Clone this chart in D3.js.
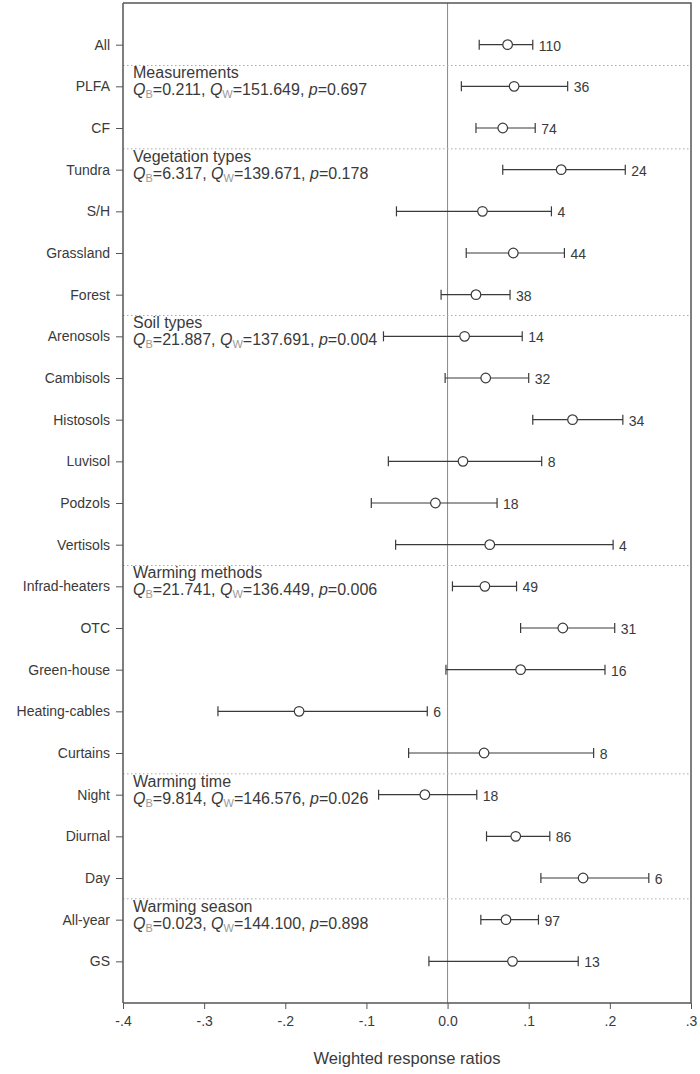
<!DOCTYPE html>
<html>
<head>
<meta charset="utf-8">
<script src="https://cdn.jsdelivr.net/npm/d3@7"></script>
<style>
  body { margin: 0; background: #fff; }
  svg { display: block; font-family: 'Liberation Sans', Arial, sans-serif; }
</style>
</head>
<body>
<svg id="chart"></svg>
<script>
const categories = ['All', 'PLFA', 'CF', 'Tundra', 'S/H', 'Grassland', 'Forest', 'Arenosols', 'Cambisols',
    'Histosols', 'Luvisol', 'Podzols', 'Vertisols', 'Infrad-heaters', 'OTC', 'Green-house',
    'Heating-cables', 'Curtains', 'Night', 'Diurnal', 'Day', 'All-year', 'GS']
const means = [0.074, 0.082, 0.068, 0.140, 0.043, 0.081, 0.035, 0.021, 0.047,
    0.154, 0.019, -0.015, 0.052, 0.046, 0.142, 0.090,
    -0.183, 0.045, -0.028, 0.084, 0.167, 0.072, 0.080]
const lower = [0.039, 0.017, 0.035, 0.068, -0.063, 0.023, -0.008, -0.079, -0.003,
    0.105, -0.073, -0.094, -0.064, 0.006, 0.090, -0.002,
    -0.283, -0.048, -0.085, 0.048, 0.115, 0.041, -0.023]
const upper = [0.105, 0.148, 0.108, 0.219, 0.128, 0.144, 0.077, 0.092, 0.100,
    0.216, 0.116, 0.061, 0.204, 0.085, 0.206, 0.194,
    -0.025, 0.180, 0.036, 0.126, 0.248, 0.112, 0.161]
const counts = [110, 36, 74, 24, 4, 44, 38, 14, 32, 34, 8, 18, 4, 49, 31, 16, 6, 8, 18, 86, 6, 97, 13]

const groupTitles = ['Measurements', 'Vegetation types', 'Soil types', 'Warming methods', 'Warming time', 'Warming season']
const groupStarts = ['PLFA', 'Tundra', 'Arenosols', 'Infrad-heaters', 'Night', 'All-year']
const groupQB = ['0.211', '6.317', '21.887', '21.741', '9.814', '0.023']
const groupQW = ['151.649', '139.671', '137.691', '136.449', '146.576', '144.100']
const groupP = ['0.697', '0.178', '0.004', '0.006', '0.026', '0.898']

const xTicks = [-0.4, -0.3, -0.2, -0.1, 0, 0.1, 0.2, 0.3]
const xTickLabels = ['-.4', '-.3', '-.2', '-.1', '0.0', '.1', '.2', '.3']
const xTitle = 'Weighted response ratios'

const fullWidth = 700
const fullHeight = 1074
const plotLeft = 123
const plotRight = 691
const plotTop = 3
const plotBottom = 1003

const svg = d3.select('#chart')
    .attr('width', fullWidth)
    .attr('height', fullHeight)

const xScale = d3.scaleLinear()
    .domain([-0.4, 0.3])
    .range([plotLeft, plotRight])

// rows sit at 1..23, frame spans 0..24
const yScale = d3.scaleLinear()
    .domain([0, categories.length + 1])
    .range([plotTop, plotBottom])
const rowY = name => yScale(categories.indexOf(name) + 1)
const sepY = name => yScale(categories.indexOf(name) + 0.5)

const ink = '#3a3a3a'

// zero line
svg.append('line')
    .attr('x1', xScale(0)).attr('x2', xScale(0))
    .attr('y1', plotTop).attr('y2', plotBottom)
    .attr('stroke', '#888').attr('stroke-width', 1)

// group separators
svg.append('g')
    .selectAll('line')
    .data(groupStarts)
    .enter().append('line')
        .attr('x1', plotLeft).attr('x2', plotRight)
        .attr('y1', sepY)
        .attr('y2', sepY)
        .attr('stroke', '#aaa').attr('stroke-width', 1)
        .attr('stroke-dasharray', '1.5,2.5')

// frame: top and right
svg.append('path')
    .attr('d', `M${plotLeft},${plotTop}H${plotRight}V${plotBottom}`)
    .attr('fill', 'none').attr('stroke', '#555').attr('stroke-width', 1.5)

// y axis
const yAxis = d3.axisLeft(d3.scalePoint().domain(categories)
        .range([yScale(1), yScale(categories.length)]))
    .tickSize(7).tickPadding(6)
const yAxisGroup = svg.append('g')
    .attr('transform', `translate(${plotLeft}, 0)`)
    .call(yAxis)
yAxisGroup.select('.domain').attr('stroke', '#555').attr('stroke-width', 1.5)
    .attr('d', `M0,${plotTop}V${plotBottom}`)
yAxisGroup.selectAll('.tick line').attr('stroke', '#555')
yAxisGroup.selectAll('text').attr('font-size', '14px').attr('fill', ink)
    .attr('font-family', "'Liberation Sans', Arial, sans-serif")

// x axis
const xAxis = d3.axisBottom(xScale)
    .tickValues(xTicks)
    .tickFormat((d, i) => xTickLabels[i])
    .tickSize(6).tickPadding(7)
const xAxisGroup = svg.append('g')
    .attr('transform', `translate(0, ${plotBottom})`)
    .call(xAxis)
xAxisGroup.select('.domain').attr('stroke', '#555').attr('stroke-width', 1.5)
    .attr('d', `M${plotLeft},0H${plotRight}`)
xAxisGroup.selectAll('.tick line').attr('stroke', '#555')
xAxisGroup.selectAll('text').attr('font-size', '14px').attr('fill', ink)
    .attr('font-family', "'Liberation Sans', Arial, sans-serif")

svg.append('text')
    .attr('x', (plotLeft + plotRight) / 2)
    .attr('y', 1064)
    .attr('text-anchor', 'middle')
    .attr('font-size', '16.5px')
    .attr('fill', ink)
    .text(xTitle)

// error bars
const rows = categories.map((name, i) => ({ name, mean: means[i], lo: lower[i], hi: upper[i], n: counts[i] }))
const bars = svg.append('g')
    .selectAll('g')
    .data(rows)
    .enter().append('g')
        .attr('transform', d => `translate(0, ${rowY(d.name)})`)

bars.append('line')
    .attr('x1', d => xScale(d.lo)).attr('x2', d => xScale(d.hi))
    .attr('stroke', ink).attr('stroke-width', 1.2)
bars.append('line')
    .attr('x1', d => xScale(d.lo)).attr('x2', d => xScale(d.lo))
    .attr('y1', -5).attr('y2', 5)
    .attr('stroke', ink).attr('stroke-width', 1.2)
bars.append('line')
    .attr('x1', d => xScale(d.hi)).attr('x2', d => xScale(d.hi))
    .attr('y1', -5).attr('y2', 5)
    .attr('stroke', ink).attr('stroke-width', 1.2)
bars.append('circle')
    .attr('cx', d => xScale(d.mean))
    .attr('r', 4.8)
    .attr('fill', '#fff').attr('stroke', ink).attr('stroke-width', 1.2)
bars.append('text')
    .attr('x', d => xScale(d.hi) + 6)
    .attr('y', 6)
    .attr('font-size', '14px')
    .attr('fill', ink)
    .text(d => d.n)

// group annotations
const groups = groupTitles.map((title, i) => ({ title, start: groupStarts[i], qb: groupQB[i], qw: groupQW[i], p: groupP[i] }))
const notes = svg.append('g')
    .selectAll('g')
    .data(groups)
    .enter().append('g')
        .attr('transform', d => `translate(${plotLeft + 10}, ${rowY(d.start)})`)
        .attr('font-size', '16px')
        .attr('fill', ink)

notes.append('text')
    .attr('y', -8)
    .text(d => d.title)

const stat = notes.append('text').attr('y', 9)
stat.append('tspan').attr('font-style', 'italic').text('Q')
stat.append('tspan').attr('font-size', '11px').attr('dy', 3).attr('fill', '#999').text('B')
stat.append('tspan').attr('dy', -3).text(d => `=${d.qb}, `)
stat.append('tspan').attr('font-style', 'italic').text('Q')
stat.append('tspan').attr('font-size', '11px').attr('dy', 3).attr('fill', '#999').text('W')
stat.append('tspan').attr('dy', -3).text(d => `=${d.qw}, `)
stat.append('tspan').attr('font-style', 'italic').text('p')
stat.append('tspan').text(d => `=${d.p}`)
</script>
</body>
</html>
